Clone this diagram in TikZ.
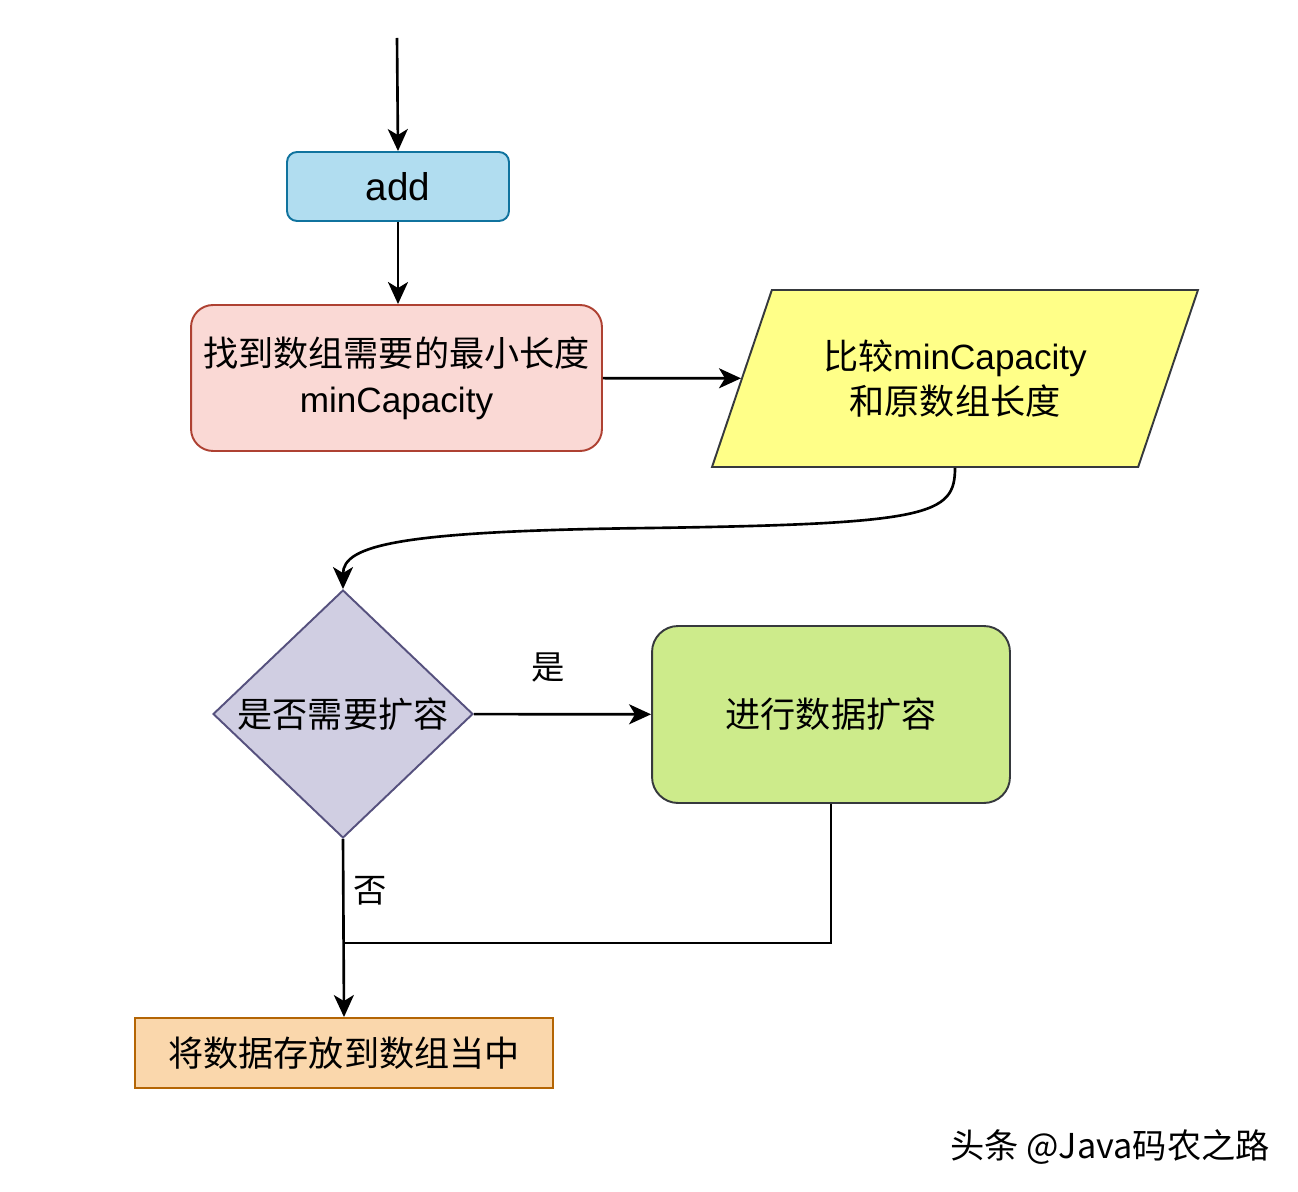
\documentclass[tikz,border=0pt]{standalone}
\usepackage{fontspec}
\setmainfont{Liberation Sans}
\newfontfamily\cjk{Noto Sans CJK SC}
\usetikzlibrary{shapes.geometric}
\usetikzlibrary{arrows.meta}
\definecolor{addfill}{HTML}{B1DDF0}
\definecolor{adddraw}{HTML}{10739E}
\definecolor{findfill}{HTML}{FAD9D5}
\definecolor{finddraw}{HTML}{AE4132}
\definecolor{cmpfill}{HTML}{FFFF88}
\definecolor{darkline}{HTML}{36393D}
\definecolor{decfill}{HTML}{D0CEE2}
\definecolor{decdraw}{HTML}{56517E}
\definecolor{growfill}{HTML}{CDEB8B}
\definecolor{storefill}{HTML}{FAD7AC}
\definecolor{storedraw}{HTML}{B46504}
\tikzstyle{block} = [draw,rectangle,line width=1.1pt,align=center,font=\fontsize{20}{26}\selectfont]
\tikzstyle{para} = [draw,trapezium,trapezium left angle=56.4,trapezium right angle=123.6,
                    trapezium stretches body=true,line width=1.1pt,align=center,font=\fontsize{20}{26}\selectfont]
\tikzstyle{decision} = [draw,diamond,inner sep=0pt,line width=1.1pt,font=\fontsize{20}{26}\selectfont]
\tikzstyle{connector} = [->,line width=1.5pt]
\tikzstyle{line} = [line width=1.5pt]
\tikzstyle{edgelabel} = [font=\fontsize{19}{24}\selectfont\cjk,inner sep=2pt]

\begin{document}
\begin{tikzpicture}[x=0.02cm, y=-0.02cm, >={Stealth[length=0.44cm,width=0.4cm,inset=0.12cm]}]
    \useasboundingbox (0,0) rectangle (1298,1192);
    % place the nodes
    \coordinate (start) at (397,38);
    \node[block, fill=addfill, draw=adddraw, rounded corners=0.2cm,
          minimum width=4.44cm, minimum height=1.38cm] (add) at (398,186.5)
          {\fontsize{22}{26}\selectfont add};
    \node[block, fill=findfill, draw=finddraw, rounded corners=0.44cm,
          minimum width=8.22cm, minimum height=2.92cm] (find) at (396.5,378)
          {{\cjk 找到数组需要的最小长度}\\minCapacity};
    \node[para, fill=cmpfill, draw=darkline,
          minimum width=9.72cm, minimum height=3.54cm] (cmp) at (955,378.5)
          {{\cjk 比较}minCapacity\\{\cjk 和原数组长度}};
    \node[decision, fill=decfill, draw=decdraw,
          minimum width=5.2cm, minimum height=4.96cm] (dec) at (343,714)
          {\cjk 是否需要扩容};
    \node[block, fill=growfill, draw=darkline, rounded corners=0.52cm,
          minimum width=7.16cm, minimum height=3.54cm] (grow) at (831,714.5)
          {\cjk 进行数据扩容};
    \node[block, fill=storefill, draw=storedraw,
          minimum width=8.36cm, minimum height=1.4cm] (store) at (344,1053)
          {\cjk 将数据存放到数组当中};
    \coordinate (merge) at (343,943);
    \node[font=\fontsize{19.5}{22}\selectfont\cjk] (mark) at (1110,1147) {头条 @Java码农之路};
    % now link the nodes
    \draw [connector] (start) -- (add.north);
    \draw [connector] (add) -- (add |- find.north);
    \draw [connector] (find) -- (cmp);
    \draw [connector] (cmp.south -| cmp.center) .. controls (955,515) and (930,524) .. (650,528)
          .. controls (400,531) and (343,545) .. (dec.north);
    \draw [connector] (dec) -- node[edgelabel, pos=0.42, above=0.55cm] {是} (grow);
    \draw [line] (grow.south) |- (merge);
    \draw [connector] (dec.south) -- node[edgelabel, pos=0.29, right=0.1cm] {否} (store.north);
\end{tikzpicture}
\end{document}
